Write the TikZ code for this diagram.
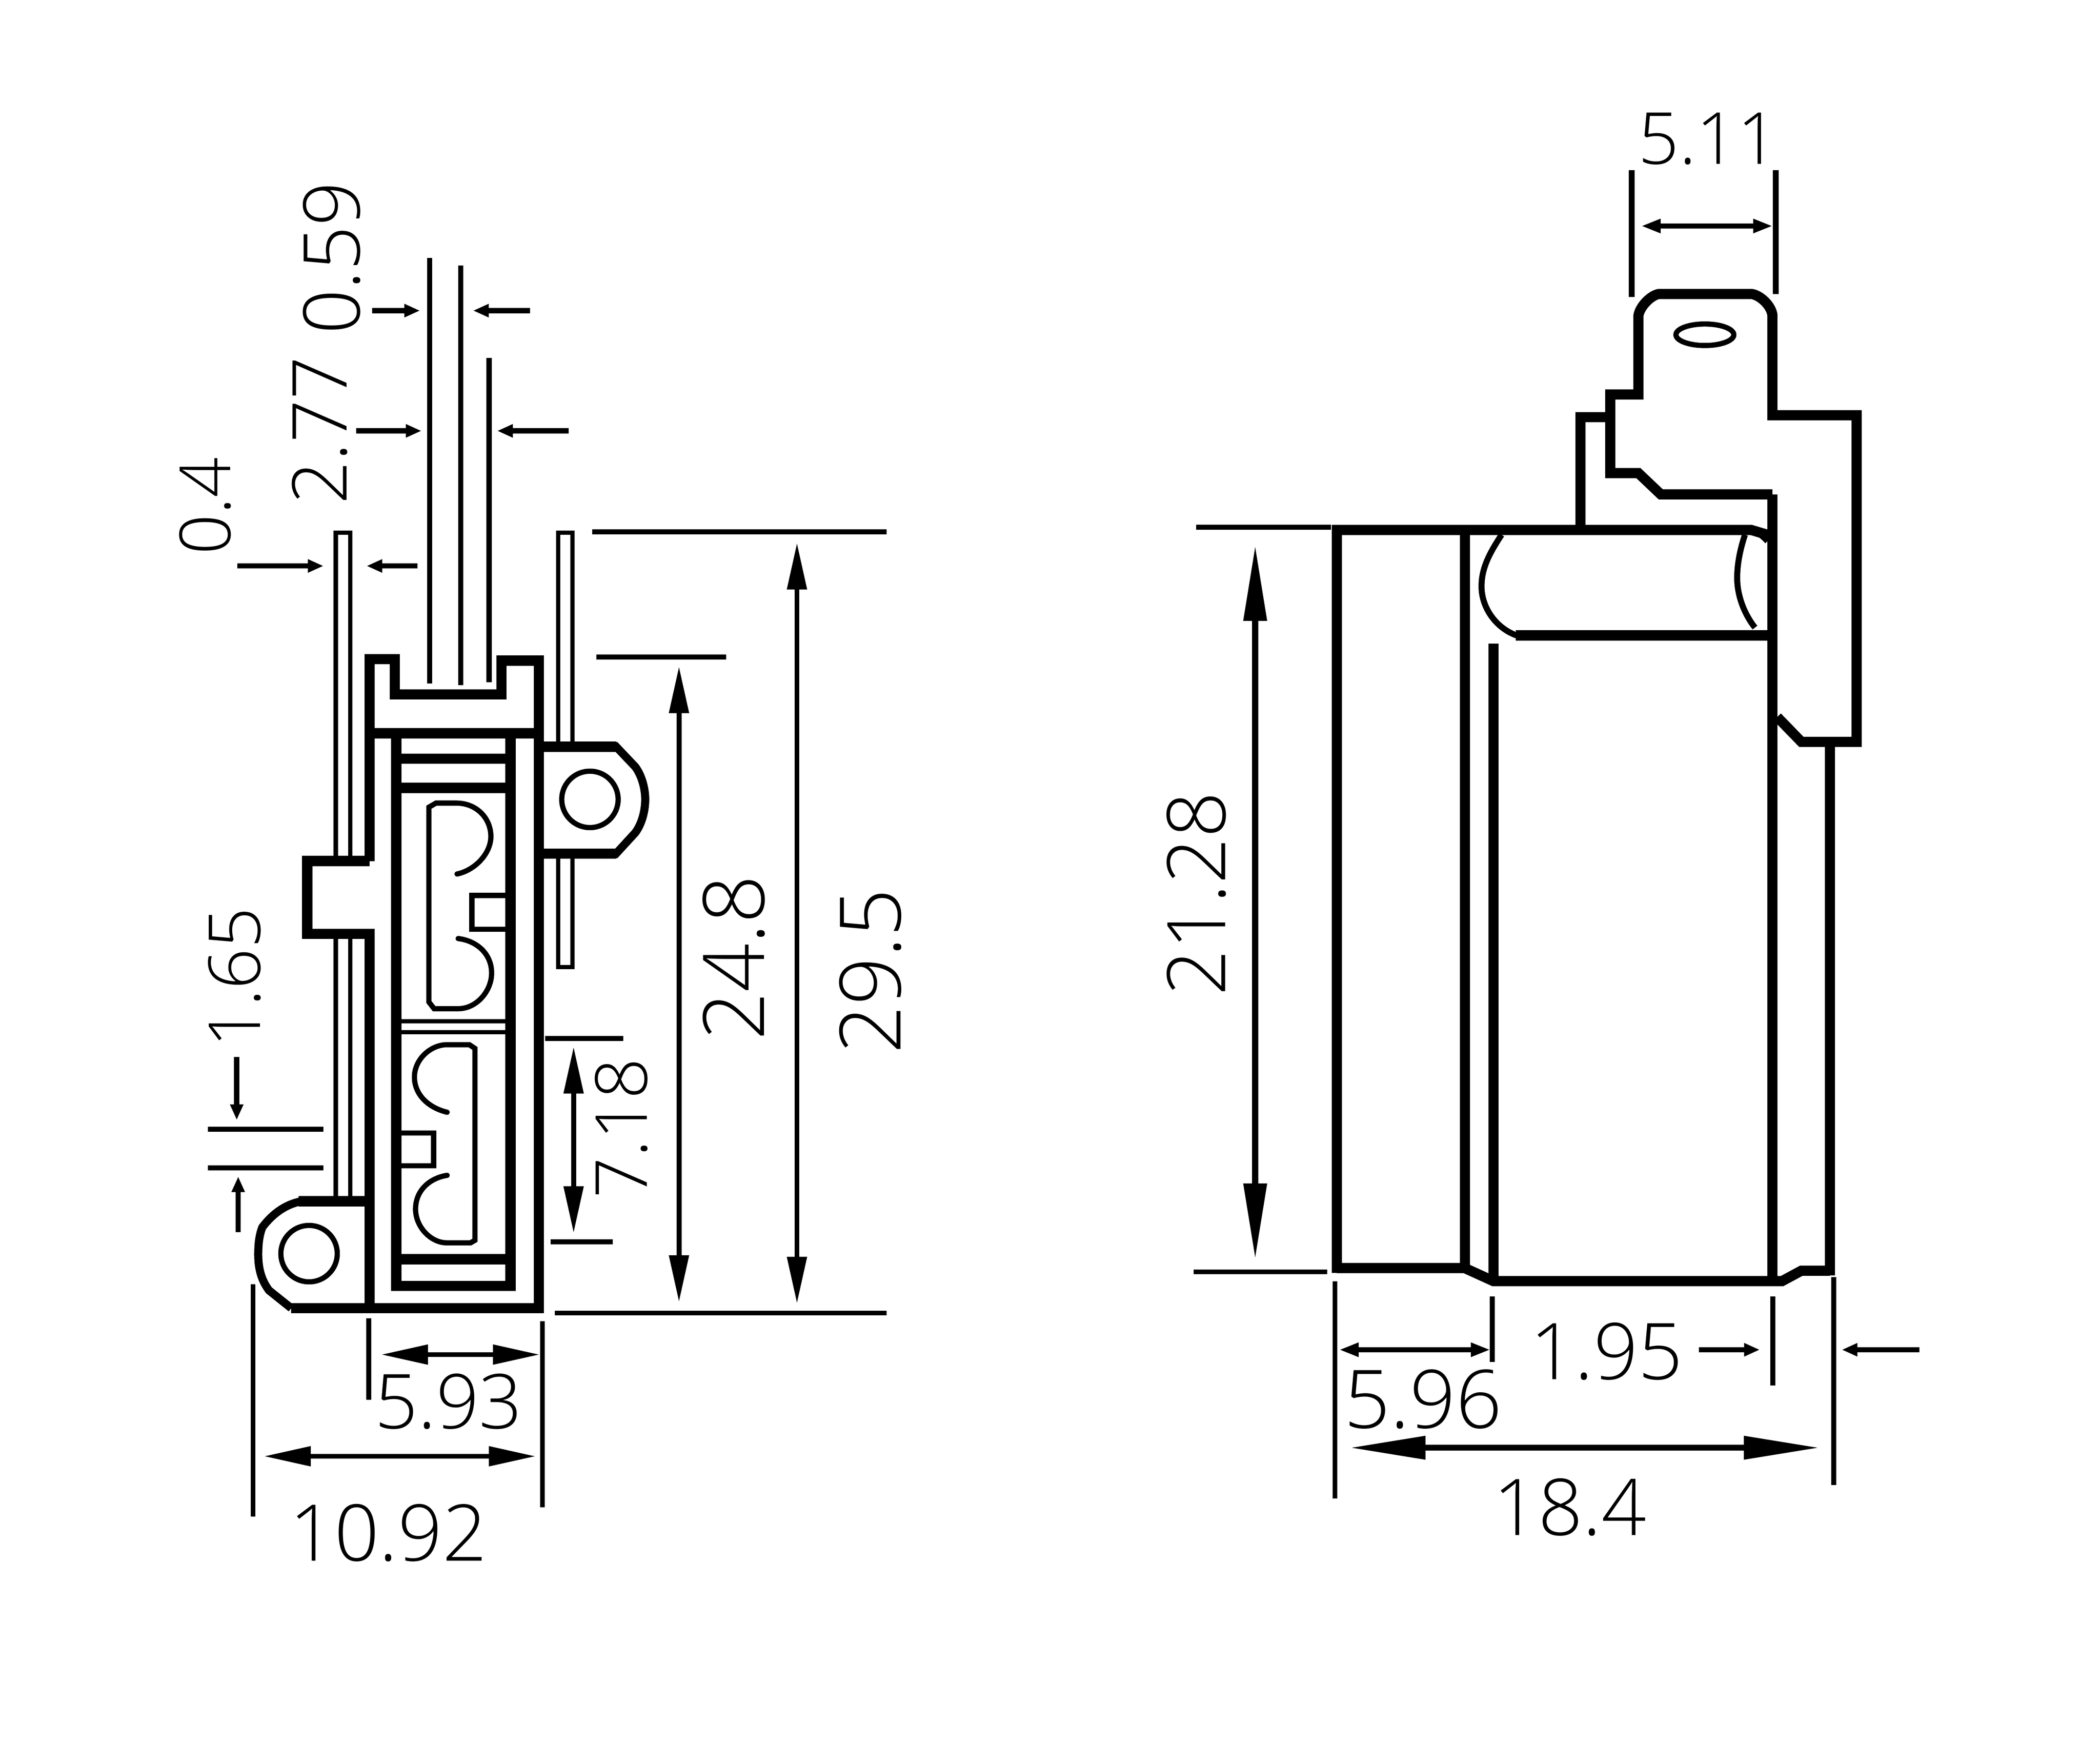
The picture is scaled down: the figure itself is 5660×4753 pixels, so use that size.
\documentclass[tikz,border=0pt]{standalone}
\usepackage{fontspec}
\setmainfont{Open Sans Light}
\usetikzlibrary{arrows.meta}
\tikzset{
  wall/.style={line width=7.8pt},
  rib/.style={line width=6.2pt},
  thin/.style={line width=4pt},
  hair/.style={line width=3.3pt},
  ext/.style={line width=3.8pt},
  dimbig/.style={line width=3.8pt,{Triangle[length=36pt,width=14.5pt]}-{Triangle[length=36pt,width=14.5pt]}},
  dimhuge/.style={line width=4.6pt,{Triangle[length=58pt,width=17pt]}-{Triangle[length=58pt,width=17pt]}},
  dimmid/.style={line width=4pt,{Triangle[length=15pt,width=10pt]}-{Triangle[length=15pt,width=10pt]}},
  dimsmall/.style={line width=4pt,-{Triangle[length=12pt,width=9.5pt]}},
  val/.style={font=\fontsize{#1}{#1}\selectfont,inner sep=0pt},
  val/.default=60,
}
\begin{document}
\begin{tikzpicture}[x=.01cm,y=-.01cm]
\useasboundingbox (0,0) rectangle (5660,4753);
% side view
\draw[hair] (905,2306) -- (905,1435) -- (944,1435) -- (944,2306);
\draw[hair] (905,2530) -- (905,3223);
\draw[hair] (944,2530) -- (944,3223);
\draw[hair] (1504,1998) -- (1504,1435) -- (1543,1435) -- (1543,1998);
\draw[hair] (1504,2314) -- (1504,2606) -- (1543,2606) -- (1543,2314);
\draw[thin] (1158,695) -- (1158,1842);
\draw[thin] (1242,715) -- (1242,1846);
\draw[thin] (1318,964) -- (1318,1838);
\draw[wall] (996,2320) -- (996,1776) -- (1064,1776) -- (1064,1871) -- (1352,1871) -- (1352,1780) -- (1452,1780) -- (1452,3525) -- (785,3525);
\draw[wall] (996,2320) -- (828,2320) -- (828,2516) -- (996,2516) -- (996,3525);
\draw[wall] (996,1976) -- (1452,1976);
\draw[wall] (1068,1976) -- (1068,3465) -- (1376,3465) -- (1376,1976) -- cycle;
\draw[wall] (1068,2044) -- (1376,2044);
\draw[wall] (1068,2123) -- (1376,2123);
\draw[wall] (1068,3393) -- (1376,3393);
\draw[hair] (1068,2752) -- (1376,2752);
\draw[hair] (1068,2781) -- (1376,2781);
% clips
\draw[thin,line cap=round] (1232,2355) .. controls (1280,2345) and (1323,2300) .. (1323,2254) .. controls (1323,2205) and (1285,2165) .. (1232,2164) -- (1175,2164) -- (1156,2175) -- (1156,2700) -- (1170,2718) -- (1235,2718) .. controls (1285,2718) and (1325,2670) .. (1325,2622) .. controls (1325,2570) and (1285,2535) .. (1235,2529);
\draw[thin,line cap=round] (1205,2997) .. controls (1155,2985) and (1117,2950) .. (1117,2902) .. controls (1117,2855) and (1160,2815) .. (1205,2815) -- (1265,2815) -- (1280,2825) -- (1280,3342) -- (1268,3349) -- (1205,3349) .. controls (1160,3349) and (1120,3305) .. (1120,3258) .. controls (1120,3210) and (1155,3175) .. (1205,3167);
\draw[thin] (1376,2413) -- (1272,2413) -- (1272,2504) -- (1376,2504);
\draw[thin] (1068,3053) -- (1169,3053) -- (1169,3141) -- (1068,3141);
% ears
\draw[wall] (1452,2012) -- (1661,2012);
\draw[wall] (1452,2300) -- (1661,2300);
\draw[rib] (1655,2006) -- (1712,2066) .. controls (1730,2090) and (1739,2125) .. (1739,2154) .. controls (1739,2185) and (1730,2220) .. (1712,2244) -- (1655,2306);
\draw[thin] (1590,2154) circle (76);
\draw[wall] (996,3237) -- (805,3237);
\draw[rib] (812,3237) .. controls (770,3245) and (735,3270) .. (707,3307) .. controls (698,3330) and (696,3355) .. (696,3380) .. controls (696,3420) and (705,3450) .. (725,3477) -- (785,3525);
\draw[thin] (833,3378) circle (76);
% end view
\draw[wall] (4777,1332) -- (4476,1332) -- (4416,1275) -- (4340,1275) -- (4340,1063) -- (4416,1063) -- (4416,850) .. controls (4420,825) and (4450,795) .. (4472,792) -- (4720,792) .. controls (4745,795) and (4775,825) .. (4777,850) -- (4777,1119) -- (5004,1119) -- (5004,1999) -- (4855,1999) -- (4790,1932);
\draw[wall] (4777,1332) -- (4777,3452);
\draw[wall] (4340,1124) -- (4260,1124) -- (4260,1428);
\draw[wall] (3603,3430) -- (3603,1428) -- (4720,1428) -- (4777,1445);
\draw[wall] (3603,3417) -- (3948,3417) -- (4025,3452) -- (4803,3452) -- (4855,3424) -- (4932,3424);
\draw[wall] (4932,1999) -- (4932,3437);
\draw[wall] (3948,1428) -- (3948,3417);
\draw[wall] (4025,1734) -- (4025,3452);
\draw[wall] (4085,1712) -- (4777,1712);
\draw[rib,line width=4.6pt] (4047,1441) .. controls (4015,1490) and (3993,1530) .. (3993,1580) .. controls (3993,1640) and (4035,1695) .. (4090,1713);
\draw[rib,line width=4.6pt] (4703,1441) .. controls (4690,1480) and (4682,1520) .. (4682,1557) .. controls (4682,1610) and (4705,1660) .. (4730,1691);
\draw[thin] (4714,1428) .. controls (4735,1432) and (4750,1445) .. (4763,1459);
\draw[thin] (4595,902) ellipse (78 and 29);
% dimensions left
\draw[ext] (1596,1433) -- (2390,1433);
\draw[ext] (1607,1770) -- (1957,1770);
\draw[ext] (1495,3538) -- (2390,3538);
\draw[ext] (1469,2798) -- (1680,2798);
\draw[ext] (1484,3346) -- (1652,3346);
\draw[ext] (560,3043) -- (872,3043);
\draw[ext] (560,3147) -- (872,3147);
\draw[ext] (682,3460) -- (682,4087);
\draw[ext] (1462,3560) -- (1462,4061);
\draw[ext] (994,3552) -- (994,3772);
\draw[dimbig] (2148,1462) -- (2148,3513);
\draw[dimbig] (1830,1795) -- (1830,3509);
\draw[dimbig] (1546,2820) -- (1546,3323);
\draw[dimbig] (1027,3650) -- (1455,3650);
\draw[dimbig] (711,3924) -- (1444,3924);
\draw[dimsmall] (640,1525) -- (872,1525);
\draw[dimsmall] (1125,1525) -- (988,1525);
\draw[dimsmall] (1003,837) -- (1132,837);
\draw[dimsmall] (1429,837) -- (1275,837);
\draw[dimsmall] (960,1161) -- (1136,1161);
\draw[dimsmall] (1533,1161) -- (1340,1161);
\draw[dimsmall] (638,2848) -- (638,3018);
\draw[dimsmall] (642,3320) -- (642,3170);
% dimensions right
\draw[ext] (3224,1421) -- (3587,1421);
\draw[ext] (3217,3427) -- (3577,3427);
\draw[ext] (3598,3453) -- (3598,4038);
\draw[ext] (4942,3441) -- (4942,4001);
\draw[ext] (4022,3493) -- (4022,3670);
\draw[ext] (4778,3493) -- (4778,3733);
\draw[line width=4.4pt] (4398,459) -- (4398,800);
\draw[line width=4.4pt] (4786,459) -- (4786,792);
\draw[dimhuge] (3383,1469) -- (3383,3393);
\draw[dimhuge] (3638,3901) -- (4904,3901);
\draw[dimmid] (3609,3637) -- (4017,3637);
\draw[dimmid] (4423,609) -- (4778,609);
\draw[dimsmall] (4579,3637) -- (4743,3637);
\draw[dimsmall] (5173,3637) -- (4964,3637);
% labels
\node[val] (l1092) at (1047,4130) {10.92};
\node[val=58] (l593) at (1209,3776) {5.93};
\node[val=55,rotate=90] (l165) at (632,2634) {1.65};
\node[val=54,rotate=90] (l04) at (553,1364) {0.4};
\node[val=58,rotate=90] (l277) at (862,1160) {2.77};
\node[val,rotate=90] (l059) at (894,695) {0.59};
\node[val=65,rotate=90] (l248) at (1978,2581) {24.8};
\node[val=65,rotate=90] (l295) at (2346,2617) {29.5};
\node[val=55,rotate=90] (l718) at (1675,3040) {7.18};
\node[val=62,rotate=90] (l2128) at (3224,2408) {21.28};
\node[val=55] (l511) at (4604,374) {5.11};
\node[val] (l195) at (4330,3641) {1.95};
\node[val=62] (l596) at (3836,3770) {5.96};
\node[val] (l184) at (4231,4061) {18.4};
\end{tikzpicture}
\end{document}
